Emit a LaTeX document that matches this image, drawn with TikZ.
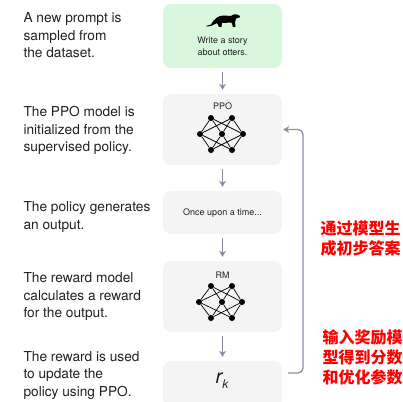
\documentclass[tikz,border=0pt]{standalone}
\usepackage{fontspec}
\setmainfont{TeX Gyre Heros}
\newfontfamily\cjk{Noto Sans CJK SC}
\usepackage{tkz-graph}
\usetikzlibrary{arrows.meta}
\definecolor{mygreen}{RGB}{216,247,220}
\definecolor{mygray}{RGB}{244,244,244}
\definecolor{myarrow}{RGB}{140,140,166}
\definecolor{myink}{RGB}{32,33,35}

\begin{document}
\begin{tikzpicture}[x=1pt,y=-1pt,
  box/.style={fill=mygray, rounded corners=8pt, minimum width=119pt, inner sep=0},
  note/.style={anchor=west, align=left, text=myink, font=\fontsize{13.7}{17.5}\selectfont},
  small/.style={text=myink, font=\fontsize{9}{12}\selectfont},
  hint/.style={anchor=west, align=left, text=red, font=\cjk\bfseries\fontsize{16}{20}\selectfont},
  flow/.style={-{Stealth[length=6pt,width=7pt]}, line width=1.3pt, color=myarrow, shorten <=4pt, shorten >=4pt}]
\useasboundingbox (0,0) rectangle (403,401);
% the five steps
\node[box, fill=mygreen, minimum height=64pt] (prompt) at (222.5,36) {};
\node[box, minimum height=71pt] (ppo) at (222.5,129.5) {};
\node[box, minimum height=43pt] (output) at (222.5,212.5) {};
\node[box, minimum height=71pt] (rm) at (222.5,296.5) {};
\node[box, minimum height=46pt] (reward) at (222.5,384) {};
% otter
\fill[black] (206,26) -- (211,24.5) .. controls (214,19) and (218,15.5) .. (224,15.5)
  -- (231,16) .. controls (233,14) and (237,13.5) .. (240,16) -- (239.5,17.5) -- (236,18.5)
  .. controls (235,21) and (235,22) .. (235.5,27) -- (233,27) -- (231.5,22.5) -- (222,23)
  -- (221.5,27) -- (219,27) -- (217,23) .. controls (214,25) and (211,26.5) .. (206,26.5) -- cycle;
\node[small, align=center] (task) at (222.5,46) {Write a story\\about otters.};
\node[small] (ppolabel) at (222.5,106) {PPO};
\node[small] (story) at (222.5,213) {Once upon a time...};
\node[small] (rmlabel) at (222.5,275) {RM};
\node[text=myink, font=\fontsize{20}{24}\selectfont\itshape] (rk) at (222,381)
  {r\raisebox{-5pt}{\fontsize{12}{12}\selectfont k}};
% networks
\tikzset{VertexStyle/.style={shape=circle, fill=black, inner sep=0, minimum size=6pt}}
\tikzset{EdgeStyle/.style={line width=0.7pt, color=black}}
\Vertex[x=211, y=118, NoLabel]{p1}
\Vertex[x=232, y=118, NoLabel]{p2}
\Vertex[x=200, y=134, NoLabel]{p3}
\Vertex[x=222, y=134, NoLabel]{p4}
\Vertex[x=243, y=134, NoLabel]{p5}
\Vertex[x=211, y=150, NoLabel]{p6}
\Vertex[x=232, y=150, NoLabel]{p7}
\Edge(p1)(p3) \Edge(p1)(p4) \Edge(p1)(p5)
\Edge(p2)(p3) \Edge(p2)(p4) \Edge(p2)(p5)
\Edge(p3)(p6) \Edge(p4)(p6) \Edge(p5)(p6)
\Edge(p3)(p7) \Edge(p4)(p7) \Edge(p5)(p7)
\Vertex[x=211, y=286, NoLabel]{r1}
\Vertex[x=232, y=286, NoLabel]{r2}
\Vertex[x=199, y=302, NoLabel]{r3}
\Vertex[x=222, y=302, NoLabel]{r4}
\Vertex[x=242, y=302, NoLabel]{r5}
\Vertex[x=211, y=318, NoLabel]{r6}
\Vertex[x=232, y=318, NoLabel]{r7}
\Edge(r1)(r3) \Edge(r1)(r4) \Edge(r1)(r5)
\Edge(r2)(r3) \Edge(r2)(r4) \Edge(r2)(r5)
\Edge(r3)(r6) \Edge(r4)(r6) \Edge(r5)(r6)
\Edge(r3)(r7) \Edge(r4)(r7) \Edge(r5)(r7)
% arrows
\draw[flow] (prompt) -- (ppo);
\draw[flow] (ppo) -- (output);
\draw[flow] (output) -- (rm);
\draw[flow] (rm) -- (reward);
\coordinate (back) at (288,373);
\coordinate (turn) at (303,129.5);
\draw[flow, shorten <=0pt, shorten >=1pt, rounded corners=5pt] (back) -| (turn) -- (ppo.east);
% descriptions
\node[note] (n1) at (20,35.5) {A new prompt is\\sampled from\\the dataset.};
\node[note] (n2) at (20,130.5) {The PPO model is\\initialized from the\\supervised policy.};
\node[note] (n3) at (20,217) {The policy generates\\an output.};
\node[note] (n4) at (20,296.5) {The reward model\\calculates a reward\\for the output.};
\node[note] (n5) at (20,375) {The reward is used\\to update the\\policy using PPO.};
\node[hint] (h1) at (317,239) {通过模型生\\成初步答案};
\node[hint] (h2) at (319,357) {输入奖励模\\型得到分数\\和优化参数};
\end{tikzpicture}
\end{document}
